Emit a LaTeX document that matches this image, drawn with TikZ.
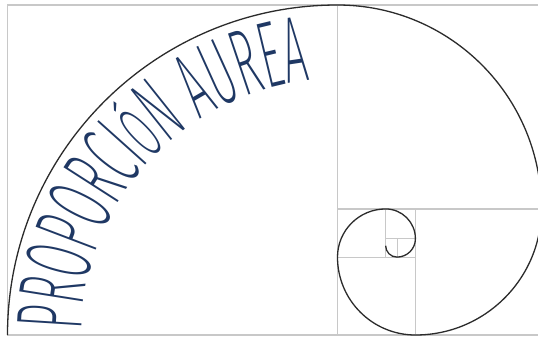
\documentclass[tikz,border=0pt]{standalone}
\usepackage{fontspec}
\newfontfamily\titlefont[FakeStretch=0.44]{Fira Sans ExtraLight}
\usetikzlibrary{decorations.text}
\definecolor{gridgray}{HTML}{C8C8C8}
\definecolor{spiralink}{HTML}{2B2B2B}
\definecolor{titleblue}{HTML}{1F3864}
\newcommand{\bigtitle}{\titlefont\fontsize{94pt}{94pt}\selectfont\color{titleblue}}
\newcommand{\smalltitle}{\titlefont\fontsize{76pt}{76pt}\selectfont\color{titleblue}}
\begin{document}
\begin{tikzpicture}[x=1pt,y=1pt,
  gridline/.style={draw=gridgray, line width=1.1pt},
  spiralline/.style={draw=spiralink, line width=1.3pt}]
\clip (0,0) rectangle (538,338);
\fill[white] (0,0) rectangle (538,338);
% frame and squares
\draw[gridline] (541.5,333) -- (7.5,333) -- (7.5,3) -- (541.5,3);
\draw[gridline] (337.5,3) -- (337.5,333);
\draw[gridline] (337.5,129.05) -- (541.5,129.05);
\draw[gridline] (415.45,3) -- (415.45,129.05);
\draw[gridline] (337.5,80.9) -- (415.45,80.9);
\draw[gridline] (385.65,80.9) -- (385.65,129.05);
\draw[gridline] (385.65,99.29) -- (415.45,99.29);
\draw[gridline] (397.06,80.9) -- (397.06,99.29);
% spiral
\draw[spiralline] (7.5,3)
  arc[start angle=180,end angle=90,radius=330]
  arc[start angle=90,end angle=0,radius=203.95]
  arc[start angle=0,end angle=-90,radius=126.05]
  arc[start angle=270,end angle=180,radius=77.9]
  arc[start angle=180,end angle=90,radius=48.15]
  arc[start angle=90,end angle=0,radius=29.76]
  arc[start angle=0,end angle=-90,radius=18.39]
  arc[start angle=270,end angle=180,radius=11.37];
% title along arc
\path[decorate, decoration={text along path,
    text={|\bigtitle|PROPORCI|\smalltitle|Ó|\bigtitle|N AUREA},
    text align={fit to path}}]
  (337.5,3) ++(179:256) arc[start angle=179,end angle=96,radius=256];
\end{tikzpicture}
\end{document}
